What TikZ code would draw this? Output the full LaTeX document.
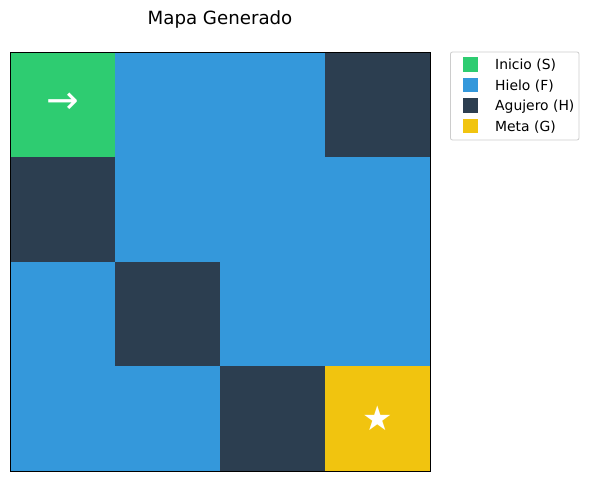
\documentclass[tikz,border=0pt]{standalone}
\usepackage{fontspec}
\setmainfont{DejaVu Sans}
\definecolor{cS}{HTML}{2ECC71}
\definecolor{cF}{HTML}{3498DB}
\definecolor{cH}{HTML}{2C3E50}
\definecolor{cG}{HTML}{F1C40F}
\begin{document}
\begin{tikzpicture}[x=1pt,y=-1pt,
  cell/.style={minimum width=105pt,minimum height=104.75pt,inner sep=0pt,outer sep=0pt,draw=none},
  sw/.style={minimum width=15pt,minimum height=14.5pt,inner sep=0pt},
  lab/.style={anchor=west,inner sep=0pt,font=\fontsize{13.9}{16}\selectfont},
  sym/.style={text=white,font=\fontsize{34}{36}\selectfont}]
\useasboundingbox (0,0) rectangle (589,481);
\node[anchor=base,font=\fontsize{18.2}{20}\selectfont] (title) at (220,25) {Mapa Generado};
% grid
\foreach \r/\row in {0/{S,F,F,H},1/{H,F,F,F},2/{F,H,F,F},3/{F,F,H,G}}{
  \foreach \t [count=\c from 0] in \row {
    \node[cell,fill=c\t] (c\r\c) at ({10+52.5+105*\c},{52+52.375+104.75*\r}) {};
  }
}
\draw[black,line width=0.8pt] (10,52) rectangle (430,471);
\node[sym,font=\fontsize{39}{40}\selectfont] (arrow) at ([yshift=1pt]c00) {→};
\node[sym] (star) at (c33) {★};
% legend
\draw[rounded corners=2pt,draw=black!20,fill=white,line width=0.8pt] (450.5,52) rectangle (579,140);
\foreach \t/\txt [count=\i from 0] in {S/Inicio (S),F/Hielo (F),H/Agujero (H),G/Meta (G)}{
  \node[sw,fill=c\t] (sw\t) at (470,{64.5+20.5*\i}) {};
  \node[lab] (lab\t) at (495,{65.5+20.5*\i}) {\txt};
}
\end{tikzpicture}
\end{document}
